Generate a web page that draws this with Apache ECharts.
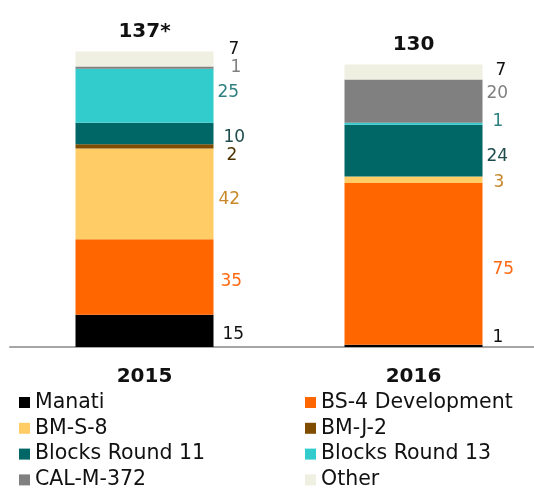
<!DOCTYPE html>
<html>
<head>
<meta charset="utf-8">
<script src="https://cdn.jsdelivr.net/npm/echarts@6/dist/echarts.min.js"></script>
<style>
  html, body { margin: 0; padding: 0; background: #fff; }
  #chart { width: 534px; height: 489px; }
</style>
</head>
<body>
<div id="chart"></div>
<script>
// data
const years = ['2015', '2016']
const totalLabels = ['137*', '130']
const projects = ['Manati', 'BS-4 Development', 'BM-S-8', 'BM-J-2',
  'Blocks Round 11', 'Blocks Round 13', 'CAL-M-372', 'Other']
const manati = [15, 1]
const bs4 = [35, 75]
const bms8 = [42, 3]
const bmj2 = [2, 0]
const round11 = [10, 24]
const round13 = [25, 1]
const calm372 = [1, 20]
const other = [7, 7]

const values = [manati, bs4, bms8, bmj2, round11, round13, calm372, other]
const colors = ['#000000', '#ff6600', '#ffcc66', '#7f4c00', '#006666', '#33cccc', '#808080', '#efefe2']
const labelColors = ['#111111', '#ff6a13', '#c8882a', '#4d3300', '#1e4b4b', '#2f8080', '#808080', '#111111']
// nudge of each value label, [dx, dy] per year, so small slices don't collide
const labelShift = [
  [[4, 4], [5, -8]],
  [[2, 5], [5, 6]],
  [[0, 6], [6, 3]],
  [[8, 9], [0, 0]],
  [[5, 4], [-1, 6]],
  [[-1, -3], [5, -2]],
  [[12, 0], [-1, -8]],
  [[10, -9], [8, -1]]
]

const font = 'DejaVu Sans'

const series = projects.map((name, i) => ({
  name: name,
  type: 'bar',
  stack: 'total',
  barWidth: 138,
  itemStyle: { color: colors[i] },
  label: {
    show: true,
    position: 'right',
    distance: 5,
    fontFamily: font,
    fontSize: 17,
    color: labelColors[i],
    formatter: p => (p.value === 0 ? '' : p.value)
  },
  data: values[i].map((v, j) => ({
    value: v,
    label: { offset: labelShift[i][j] }
  }))
}))

// empty bar on top of each stack carries the total
series.push({
  name: 'total',
  type: 'bar',
  stack: 'total',
  barWidth: 138,
  itemStyle: { color: 'transparent' },
  label: {
    show: true,
    position: 'top',
    distance: 10,
    fontFamily: font,
    fontSize: 20,
    fontWeight: 'bold',
    color: '#111',
    formatter: p => totalLabels[p.dataIndex]
  },
  data: years.map(() => 0)
})

// one legend per entry: two columns, four rows
const legends = projects.map((name, i) => ({
  data: [name],
  left: i % 2 === 0 ? 19 : 305,
  top: 392 + Math.floor(i / 2) * 25.8,
  padding: 0,
  itemWidth: 11,
  itemHeight: 11,
  icon: 'rect',
  selectedMode: false,
  textStyle: { fontFamily: font, fontSize: 20.5, lineHeight: 20, color: '#111' }
}))

const chart = echarts.init(document.getElementById('chart'))
chart.setOption({
  animation: false,
  grid: { left: 10, right: -14, top: 45, bottom: 142, outerBoundsMode: 'none' },
  legend: legends,
  xAxis: {
    type: 'category',
    data: years,
    axisLine: { lineStyle: { color: '#a6a6a6', width: 2 } },
    axisTick: { show: false },
    axisLabel: {
      margin: 20,
      fontFamily: font,
      fontSize: 20,
      fontWeight: 'bold',
      color: '#111'
    }
  },
  yAxis: {
    type: 'value',
    min: 0,
    max: 140,
    show: false
  },
  series: series
})
</script>
</body>
</html>
